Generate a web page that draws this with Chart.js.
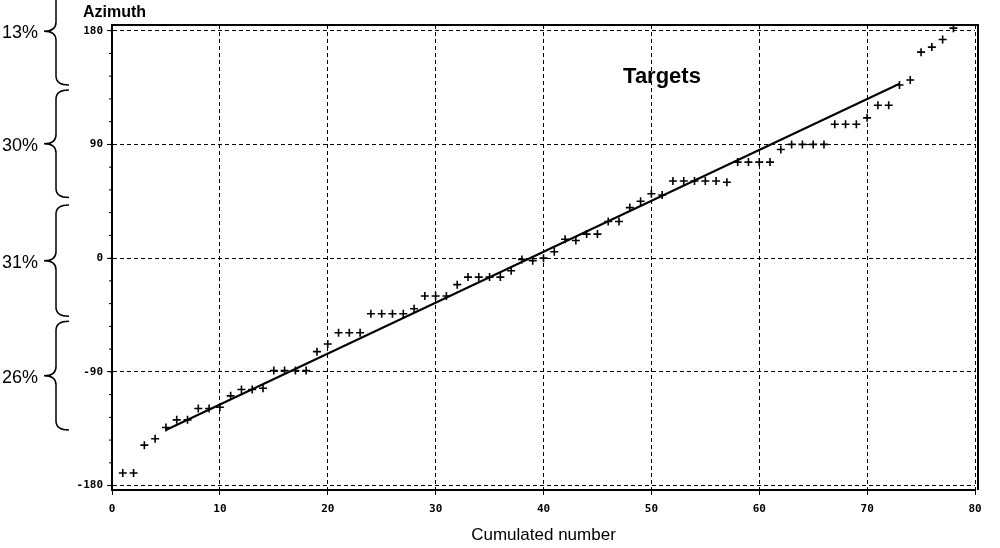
<!DOCTYPE html>
<html>
<head>
<meta charset="utf-8">
<script src="https://cdn.jsdelivr.net/npm/chart.js@4/dist/chart.umd.min.js"></script>
<style>
  html, body { margin: 0; padding: 0; background: #fff; }
  #wrap { width: 1000px; height: 548px; }
</style>
</head>
<body>
<div id="wrap"><canvas id="azimuthChart" width="1000" height="548"></canvas></div>
<script>
// cumulated number of targets and their sorted azimuth (degrees)
const cumulated = [
    1, 2, 3, 4, 5, 6, 7, 8, 9, 10, 11, 12, 13, 14, 15, 16, 17, 18, 19, 20,
    21, 22, 23, 24, 25, 26, 27, 28, 29, 30, 31, 32, 33, 34, 35, 36, 37, 38, 39, 40,
    41, 42, 43, 44, 45, 46, 47, 48, 49, 50, 51, 52, 53, 54, 55, 56, 57, 58, 59, 60,
    61, 62, 63, 64, 65, 66, 67, 68, 69, 70, 71, 72, 73, 74, 75, 76, 77, 78
];
const azimuth = [
    -170, -170, -148, -143, -134, -128, -128, -119, -119, -118,
    -109, -104, -104, -103, -89, -89, -89, -89, -74, -68,
    -59, -59, -59, -44, -44, -44, -44, -40, -30, -30,
    -30, -21, -15, -15, -15, -15, -10, -1, -2, 0,
    5, 15, 14, 19, 19, 29, 29, 40, 45, 51,
    50, 61, 61, 61, 61, 61, 60, 76, 76, 76,
    76, 86, 90, 90, 90, 90, 106, 106, 106, 111,
    121, 121, 137, 141, 163, 167, 173, 182
];

// fitted line end points
const fitX = [5, 73];
const fitY = [-136, 138];

const xTicks = [0, 10, 20, 30, 40, 50, 60, 70, 80];
const yTicks = [-180, -90, 0, 90, 180];

// share of targets per azimuth sector (brace labels)
const sectorLabels = ['13%', '30%', '31%', '26%'];
const sectorTop = [222, 133, 42, -50];
const sectorBottom = [137, 48, -46, -136];

const tickFont = { family: 'DejaVu Sans Mono', size: 11, weight: 'bold' };

const overlayPlugin = {
    id: 'overlay',
    afterDraw(chart) {
        const ctx = chart.ctx;
        const area = chart.chartArea;
        const yScale = chart.scales.y;

        ctx.save();
        ctx.strokeStyle = '#000';
        ctx.fillStyle = '#000';

        // top and right frame
        ctx.lineWidth = 2;
        ctx.beginPath();
        ctx.moveTo(area.left, area.top);
        ctx.lineTo(area.right + 3, area.top);
        ctx.lineTo(area.right + 3, area.bottom);
        ctx.stroke();

        // minor ticks on the left axis
        ctx.lineWidth = 1;
        for (let v = -180; v <= 180; v += 18) {
            const py = yScale.getPixelForValue(v);
            ctx.beginPath();
            ctx.moveTo(area.left - 3, py);
            ctx.lineTo(area.left, py);
            ctx.stroke();
        }

        // braces
        ctx.lineWidth = 1.5;
        ctx.font = '18px "Liberation Sans", Arial, sans-serif';
        ctx.textBaseline = 'middle';
        ctx.textAlign = 'left';
        sectorLabels.forEach((label, i) => {
            const top = yScale.getPixelForValue(sectorTop[i]);
            const bot = yScale.getPixelForValue(sectorBottom[i]);
            const mid = (top + bot) / 2;
            const sx = 56, tip = 44, end = 69, r = 9;
            ctx.beginPath();
            ctx.moveTo(end, top);
            ctx.quadraticCurveTo(sx, top, sx, top + r);
            ctx.lineTo(sx, mid - r);
            ctx.quadraticCurveTo(sx, mid, tip, mid);
            ctx.quadraticCurveTo(sx, mid, sx, mid + r);
            ctx.lineTo(sx, bot - r);
            ctx.quadraticCurveTo(sx, bot, end, bot);
            ctx.stroke();
            ctx.fillText(label, 2, mid + 2);
        });

        // axis caption and chart label
        ctx.font = 'bold 16px "Liberation Sans", Arial, sans-serif';
        ctx.textBaseline = 'alphabetic';
        ctx.fillText('Azimuth', 83, 17);
        ctx.font = 'bold 22px "Liberation Sans", Arial, sans-serif';
        ctx.textAlign = 'center';
        ctx.fillText('Targets', 662, 83);
        ctx.restore();
    }
};

new Chart(document.getElementById('azimuthChart').getContext('2d'), {
    type: 'scatter',
    data: {
        datasets: [
            {
                label: 'Targets',
                data: cumulated.map((n, i) => ({ x: n, y: azimuth[i] })),
                pointStyle: 'cross',
                pointRadius: 4,
                pointBorderWidth: 1.6,
                borderColor: '#000',
                backgroundColor: '#000'
            },
            {
                label: 'Fit',
                data: fitX.map((x, i) => ({ x: x, y: fitY[i] })),
                showLine: true,
                pointRadius: 0,
                borderColor: '#000',
                borderWidth: 2
            }
        ]
    },
    options: {
        responsive: false,
        devicePixelRatio: 1,
        animation: false,
        layout: {
            padding: { left: 0, top: 25, right: 25, bottom: 0 }
        },
        plugins: {
            legend: { display: false },
            tooltip: { enabled: false }
        },
        scales: {
            x: {
                type: 'linear',
                min: 0,
                max: 80,
                afterBuildTicks: scale => { scale.ticks = xTicks.map(v => ({ value: v })); },
                afterFit: scale => { scale.height = 58; },
                grid: {
                    color: '#000',
                    lineWidth: 1,
                    tickLength: 5,
                    tickColor: '#000'
                },
                border: { color: '#000', width: 2, dash: [4, 3] },
                ticks: {
                    color: '#000',
                    font: tickFont,
                    padding: 8,
                    maxRotation: 0
                },
                title: {
                    display: true,
                    text: 'Cumulated number',
                    color: '#000',
                    font: { family: '"Liberation Sans", Arial, sans-serif', size: 17 },
                    padding: { top: 0, bottom: 2 }
                }
            },
            y: {
                type: 'linear',
                min: -183.5,
                max: 184.5,
                afterBuildTicks: scale => { scale.ticks = yTicks.map(v => ({ value: v })); },
                afterFit: scale => { scale.width = 112; },
                grid: {
                    color: '#000',
                    lineWidth: 1,
                    tickLength: 5,
                    tickColor: '#000'
                },
                border: { color: '#000', width: 2, dash: [4, 3] },
                ticks: {
                    color: '#000',
                    font: tickFont,
                    padding: 4
                }
            }
        }
    },
    plugins: [overlayPlugin]
});
</script>
</body>
</html>
